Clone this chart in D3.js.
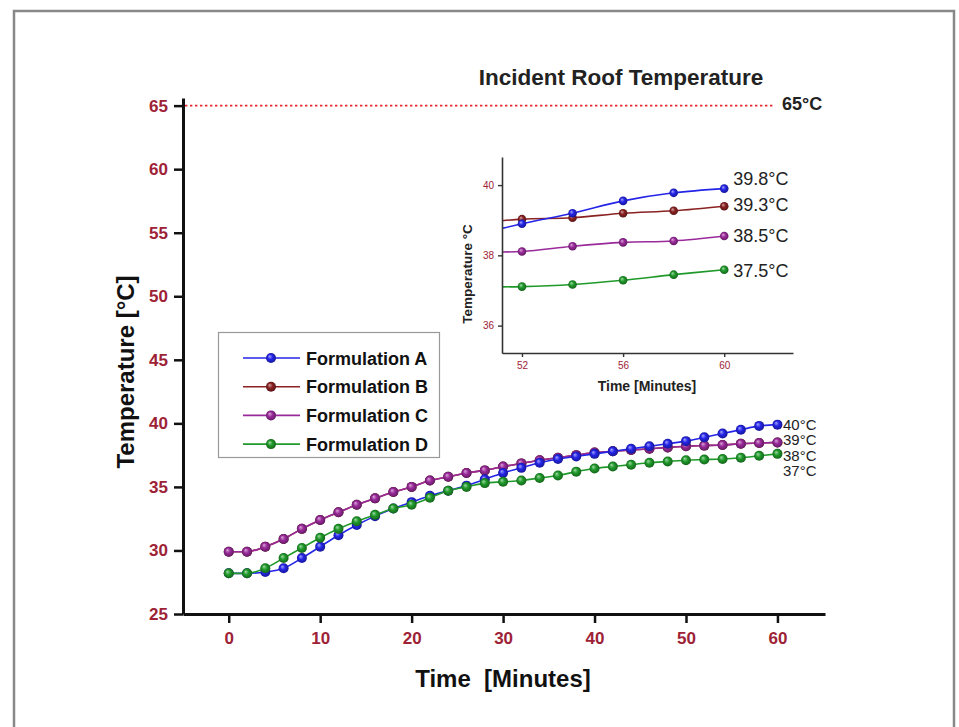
<!DOCTYPE html>
<html>
<head>
<meta charset="utf-8">
<script src="https://cdn.jsdelivr.net/npm/d3@7.9.0/dist/d3.min.js"></script>
<style>
  body { margin: 0; background: #fff; }
  svg { display: block; font-family: "Liberation Sans", Arial, sans-serif; }
</style>
</head>
<body>
<svg id="chart" width="959" height="727"></svg>
<script>
// --- DATA ---
const minutes = [0, 2, 4, 6, 8, 10, 12, 14, 16, 18, 20, 22, 24, 26, 28, 30,
                 32, 34, 36, 38, 40, 42, 44, 46, 48, 50, 52, 54, 56, 58, 60];
const formA = [28.2, 28.2, 28.3, 28.6, 29.4, 30.3, 31.2, 32.0, 32.7, 33.3, 33.8, 34.3, 34.7, 35.1, 35.6, 36.1,
               36.5, 36.9, 37.2, 37.4, 37.6, 37.8, 38.0, 38.2, 38.4, 38.6, 38.9, 39.2, 39.5, 39.8, 39.9];
// B sits underneath C in the main plot
const formB = [29.9, 29.9, 30.3, 30.9, 31.7, 32.4, 33.0, 33.6, 34.1, 34.6, 35.0, 35.5, 35.8, 36.1, 36.3, 36.6,
               36.85, 37.1, 37.3, 37.5, 37.7, 37.8, 37.9, 38.0, 38.1, 38.2, 38.25, 38.3, 38.4, 38.45, 38.5];
const formC = [29.9, 29.9, 30.3, 30.9, 31.7, 32.4, 33.0, 33.6, 34.1, 34.6, 35.0, 35.5, 35.8, 36.1, 36.3, 36.6,
               36.85, 37.1, 37.3, 37.5, 37.7, 37.8, 37.9, 38.0, 38.1, 38.2, 38.25, 38.3, 38.4, 38.45, 38.5];
const formD = [28.2, 28.2, 28.6, 29.4, 30.2, 31.0, 31.7, 32.3, 32.8, 33.3, 33.6, 34.15, 34.7, 35.0, 35.3, 35.4,
               35.5, 35.7, 35.9, 36.2, 36.45, 36.6, 36.75, 36.9, 37.0, 37.1, 37.15, 37.2, 37.3, 37.45, 37.6];

const insetMinutes = [50, 52, 54, 56, 58, 60];
const insetA = [38.55, 38.9, 39.2, 39.55, 39.78, 39.9];
const insetB = [38.9, 39.03, 39.07, 39.2, 39.27, 39.4];
const insetC = [38.1, 38.11, 38.26, 38.37, 38.41, 38.55];
const insetD = [37.1, 37.11, 37.17, 37.29, 37.45, 37.59];

const seriesNames = ["Formulation A", "Formulation B", "Formulation C", "Formulation D"];
const endLabels = ["40°C", "39°C", "38°C", "37°C"];
const insetLabels = ["39.8°C", "39.3°C", "38.5°C", "37.5°C"];
const roofTemp = 65;

const xTicks = [0, 10, 20, 30, 40, 50, 60];
const yTicks = [25, 30, 35, 40, 45, 50, 55, 60, 65];
const insetXTicks = [52, 56, 60];
const insetYTicks = [36, 38, 40];

// --- STYLE ---
const colors = ["#2424e8", "#8a2222", "#9a2a9a", "#1f9a2a"];
const tickRed = "#9e2236";

const svg = d3.select("#chart");

// frame
svg.append("rect")
  .attr("x", 14).attr("y", 11).attr("width", 940).attr("height", 740)
  .attr("fill", "none").attr("stroke", "#888").attr("stroke-width", 2.5);

// shaded markers
const defs = svg.append("defs");
colors.forEach((c, i) => {
  const g = defs.append("radialGradient").attr("id", "ball" + i)
    .attr("cx", "50%").attr("cy", "50%").attr("r", "55%")
    .attr("fx", "35%").attr("fy", "32%");
  g.append("stop").attr("offset", "0%").attr("stop-color", d3.interpolateRgb(c, "#fff")(0.6));
  g.append("stop").attr("offset", "45%").attr("stop-color", c);
  g.append("stop").attr("offset", "100%").attr("stop-color", d3.color(c).darker(1.4));
});

// --- MAIN PLOT ---
const x = d3.scaleLinear().domain([-5, 65.2]).range([183, 825]);
const y = d3.scaleLinear().domain([25, 65.6]).range([614, 98]);

const mainSeries = [formA, formB, formC, formD];
const drawOrder = [1, 2, 0, 3];

const line = d3.line()
  .x((d, i) => x(minutes[i]))
  .y(d => y(d))
  .curve(d3.curveMonotoneX);

drawOrder.forEach(s => {
  const g = svg.append("g");
  g.append("path").attr("d", line(mainSeries[s]))
    .attr("fill", "none").attr("stroke", colors[s]).attr("stroke-width", 1.6);
  g.selectAll("circle").data(mainSeries[s]).join("circle")
    .attr("cx", (d, i) => x(minutes[i])).attr("cy", d => y(d))
    .attr("r", 5).attr("fill", `url(#ball${s})`);
});

// roof temperature reference
svg.append("line")
  .attr("x1", x(-5) + 2).attr("x2", x(59.7))
  .attr("y1", y(roofTemp)).attr("y2", y(roofTemp))
  .attr("stroke", "#e8282c").attr("stroke-width", 1.6)
  .attr("stroke-dasharray", "2.4,2.6");

// axes
const xAxis = svg.append("g").attr("transform", "translate(0,614)")
  .call(d3.axisBottom(x).tickValues(xTicks).tickSize(9).tickPadding(9).tickSizeOuter(0));
const yAxis = svg.append("g").attr("transform", "translate(183,0)")
  .call(d3.axisLeft(y).tickValues(yTicks).tickSize(9).tickPadding(6).tickSizeOuter(0));
[xAxis, yAxis].forEach(a => {
  a.select(".domain").attr("stroke", "#111").attr("stroke-width", 3);
  a.selectAll(".tick line").attr("stroke", "#111").attr("stroke-width", 2.5);
  a.selectAll(".tick text").attr("fill", tickRed)
    .attr("font-family", "Liberation Sans, Arial, sans-serif")
    .attr("font-size", 17).attr("font-weight", "bold");
});

svg.append("text").attr("x", 503).attr("y", 687).attr("text-anchor", "middle")
  .attr("font-size", 24).attr("font-weight", "bold").attr("fill", "#111")
  .attr("xml:space", "preserve").text("Time  [Minutes]");
svg.append("text").attr("transform", "translate(134,372) rotate(-90)")
  .attr("text-anchor", "middle").attr("font-size", 24).attr("font-weight", "bold")
  .attr("fill", "#111").text("Temperature [°C]");

svg.append("text").attr("x", 621).attr("y", 85).attr("text-anchor", "middle")
  .attr("font-size", 22.5).attr("font-weight", "bold").attr("fill", "#222")
  .text("Incident Roof Temperature");
svg.append("text").attr("x", 782).attr("y", 110)
  .attr("font-size", 18).attr("font-weight", "bold").attr("fill", "#222")
  .text(roofTemp + "°C");

// end labels, stacked tightly as in the figure
svg.selectAll(".endlab").data(endLabels).join("text")
  .attr("x", 783).attr("y", (d, i) => y(formA[formA.length - 1]) + 5 + i * 15.5)
  .attr("font-size", 15).attr("fill", "#222").text(d => d);

// legend
const legend = svg.append("g");
legend.append("rect").attr("x", 218.5).attr("y", 332.5).attr("width", 221).attr("height", 125)
  .attr("fill", "#fff").attr("stroke", "#999").attr("stroke-width", 1.2);
seriesNames.forEach((name, i) => {
  const ly = 358 + i * 28.7;
  legend.append("line").attr("x1", 243).attr("x2", 300).attr("y1", ly).attr("y2", ly)
    .attr("stroke", colors[i]).attr("stroke-width", 1.6);
  legend.append("circle").attr("cx", 271).attr("cy", ly).attr("r", 5)
    .attr("fill", `url(#ball${i})`);
  legend.append("text").attr("x", 306).attr("y", ly + 6.5)
    .attr("font-size", 18).attr("font-weight", "bold").attr("fill", "#111").text(name);
});

// --- INSET ---
const ix = d3.scaleLinear().domain([51.21, 62.72]).range([502, 793]);
const iy = d3.scaleLinear().domain([35.22, 40.8]).range([353, 157]);
const insetSeries = [insetA, insetB, insetC, insetD];

defs.append("clipPath").attr("id", "insetClip")
  .append("rect").attr("x", 502).attr("y", 157).attr("width", 291).attr("height", 196);

const iline = d3.line()
  .x((d, i) => ix(insetMinutes[i]))
  .y(d => iy(d))
  .curve(d3.curveCatmullRom);

const inset = svg.append("g");
const plotG = inset.append("g").attr("clip-path", "url(#insetClip)");
[3, 2, 1, 0].forEach(s => {
  plotG.append("path").attr("d", iline(insetSeries[s]))
    .attr("fill", "none").attr("stroke", colors[s]).attr("stroke-width", 1.6);
  plotG.selectAll(".m" + s).data(insetSeries[s]).join("circle")
    .attr("cx", (d, i) => ix(insetMinutes[i])).attr("cy", d => iy(d))
    .attr("r", 4.3).attr("fill", `url(#ball${s})`);
});

const ixAxis = inset.append("g").attr("transform", "translate(0,353)")
  .call(d3.axisBottom(ix).tickValues(insetXTicks).tickFormat(d3.format("d"))
    .tickSize(4).tickPadding(5).tickSizeOuter(0));
const iyAxis = inset.append("g").attr("transform", "translate(502,0)")
  .call(d3.axisLeft(iy).tickValues(insetYTicks).tickFormat(d3.format("d"))
    .tickSize(4).tickPadding(4).tickSizeOuter(0));
[ixAxis, iyAxis].forEach(a => {
  a.select(".domain").attr("stroke", "#333").attr("stroke-width", 1.6);
  a.selectAll(".tick line").attr("stroke", "#333").attr("stroke-width", 1.4);
  a.selectAll(".tick text").attr("fill", tickRed)
    .attr("font-family", "Liberation Sans, Arial, sans-serif").attr("font-size", 10);
});

inset.append("text").attr("x", 647).attr("y", 391).attr("text-anchor", "middle")
  .attr("font-size", 14).attr("font-weight", "bold").attr("fill", "#222")
  .text("Time [Minutes]");
inset.append("text").attr("transform", "translate(472,274) rotate(-90)")
  .attr("text-anchor", "middle").attr("font-size", 13.5).attr("font-weight", "bold")
  .attr("fill", "#222").text("Temperature °C");

const insetNudge = [-3.5, 4.7, 5.7, 6.9];
inset.selectAll(".ilab").data(insetLabels).join("text")
  .attr("x", ix(60) + 9)
  .attr("y", (d, i) => iy(insetSeries[i][insetSeries[i].length - 1]) + insetNudge[i])
  .attr("font-size", 18).attr("fill", "#222").text(d => d);
</script>
</body>
</html>
